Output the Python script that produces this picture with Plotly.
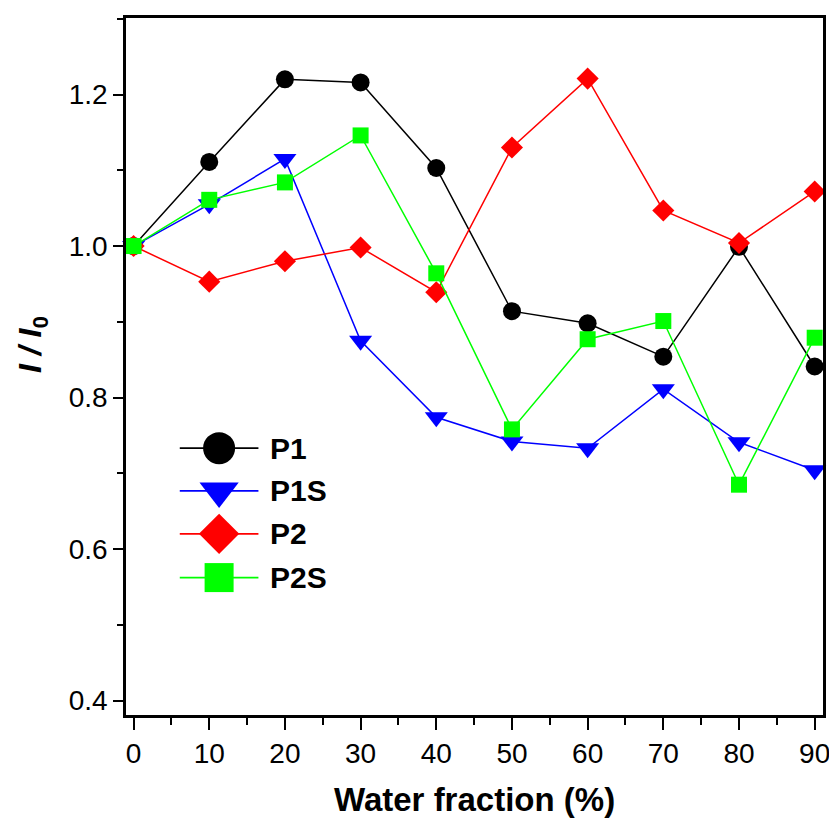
import plotly.graph_objects as go

# ---- data ----
water = [0, 10, 20, 30, 40, 50, 60, 70, 80, 90]
p1 = [1.000, 1.111, 1.220, 1.216, 1.103, 0.914, 0.898, 0.854, 0.999, 0.841]
p1s = [1.000, 1.055, 1.115, 0.875, 0.774, 0.742, 0.733, 0.811, 0.741, 0.704]
p2 = [1.000, 0.953, 0.980, 0.998, 0.939, 1.130, 1.221, 1.047, 1.004, 1.072]
p2s = [1.000, 1.061, 1.084, 1.146, 0.964, 0.758, 0.877, 0.901, 0.685, 0.879]
names = ["P1", "P1S", "P2", "P2S"]
x_ticks = [0, 10, 20, 30, 40, 50, 60, 70, 80, 90]
y_ticks = [0.4, 0.6, 0.8, 1.0, 1.2]

series = [p1, p1s, p2, p2s]
colors = ["#000000", "#0000FF", "#FF0000", "#00FF00"]
symbols = ["circle", "triangle-down", "diamond", "square"]
sizes = [18, 20, 17, 16]
leg_sizes = [32, 34, 31, 29]

FONT = "Liberation Sans, Arial, sans-serif"

# the page body has an 8px margin: work in figure pixels = screen pixels - 8
OFF = 8
W, H = 837 - OFF, 819 - OFF
L, R, T, B = 126 - OFF, 826 - OFF, 15 - OFF, 715 - OFF

fig = go.Figure()
for name, ys, c, s, sz in zip(names, series, colors, symbols, sizes):
    fig.add_trace(go.Scatter(
        x=water, y=ys, name=name, mode="lines+markers",
        line=dict(color=c, width=1.5),
        marker=dict(symbol=s, size=sz, color=c, line=dict(width=0)),
        showlegend=False, cliponaxis=False,
    ))

# custom legend (larger symbols than plotly's legend allows), on a pixel-space overlay axis
leg_x0, leg_x1, leg_txt = 180 - OFF, 259 - OFF, 269 - OFF
leg_rows = [y - OFF for y in (447, 490, 533, 577)]
for name, c, s, sz, yy in zip(names, colors, symbols, leg_sizes, leg_rows):
    fig.add_trace(go.Scatter(
        x=[leg_x0, leg_x1], y=[yy, yy], mode="lines",
        line=dict(color=c, width=1.8), xaxis="x2", yaxis="y2",
        showlegend=False, hoverinfo="skip",
    ))
    fig.add_trace(go.Scatter(
        x=[(leg_x0 + leg_x1) / 2], y=[yy], mode="markers",
        marker=dict(symbol=s, size=sz, color=c, line=dict(width=0)),
        xaxis="x2", yaxis="y2", showlegend=False, hoverinfo="skip",
    ))
    fig.add_annotation(x=leg_txt, y=yy, xref="x2", yref="y2", text=f"<b>{name}</b>",
                       showarrow=False, xanchor="left", yanchor="middle",
                       font=dict(family=FONT, size=30, color="black"))

axis_common = dict(
    showline=True, linecolor="black", linewidth=2.5, mirror=True,
    ticks="outside", tickcolor="black", tickwidth=2,
    showgrid=False, zeroline=False,
    tickfont=dict(family=FONT, size=28, color="black"),
)

fig.update_layout(
    width=W, height=H,
    margin=dict(l=L, r=W - R, t=T, b=H - B),
    paper_bgcolor="white", plot_bgcolor="white",
    xaxis=dict(range=[-1.0, 91.1], tickvals=x_ticks, ticklen=12,
               minor=dict(dtick=5, tick0=0, ticks="outside", ticklen=7, tickwidth=2, tickcolor="black"),
               **axis_common),
    yaxis=dict(range=[0.381, 1.301], tickvals=y_ticks, ticktext=[f"{v:.1f}" for v in y_ticks],
               ticklen=10,
               minor=dict(dtick=0.1, tick0=0.4, ticks="outside", ticklen=6, tickwidth=2, tickcolor="black"),
               **axis_common),
    xaxis2=dict(range=[L, R], overlaying="x", visible=False, fixedrange=True),
    yaxis2=dict(range=[B, T], overlaying="y", visible=False, fixedrange=True),
    showlegend=False,
)

# axis titles
fig.add_annotation(x=(476 - OFF - L) / (R - L), y=(B - (800 - OFF)) / (B - T), xref="paper", yref="paper",
                   text="<b>Water fraction (%)</b>", showarrow=False,
                   xanchor="center", yanchor="middle",
                   font=dict(family=FONT, size=33, color="black"))
fig.add_annotation(x=(32 - OFF - L) / (R - L), y=(B - (343 - OFF)) / (B - T), xref="paper", yref="paper",
                   text="<b><i>I / I</i><sub>0</sub></b>", showarrow=False, textangle=-90,
                   xanchor="center", yanchor="middle",
                   font=dict(family=FONT, size=32, color="black"))

fig.write_html("out.html")
